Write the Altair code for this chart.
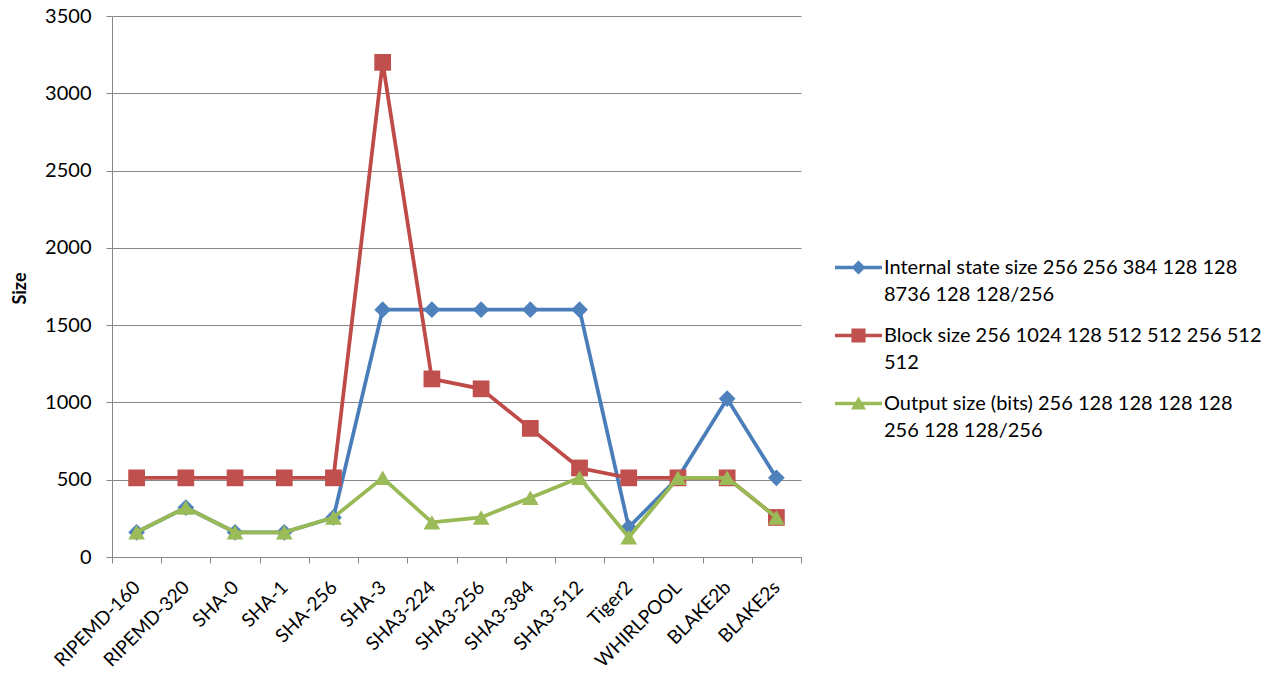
import altair as alt
import pandas as pd

# Hash functions along the category axis
names = ["RIPEMD-160", "RIPEMD-320", "SHA-0", "SHA-1", "SHA-256", "SHA-3",
         "SHA3-224", "SHA3-256", "SHA3-384", "SHA3-512", "Tiger2",
         "WHIRLPOOL", "BLAKE2b", "BLAKE2s"]

# Series values (bits)
internal_state = [160, 320, 160, 160, 256, 1600, 1600, 1600, 1600, 1600, 192, 512, 1024, 512]
block_size = [512, 512, 512, 512, 512, 3200, 1152, 1088, 832, 576, 512, 512, 512, 256]
output_size = [160, 320, 160, 160, 256, 512, 224, 256, 384, 512, 128, 512, 512, 256]

# Series names; "|" marks where the legend label wraps
series_labels = [
    "Internal state  size 256 256 384 128 128|8736 128 128/256",
    "Block size 256 1024 128 512 512 256 512|512",
    "Output size (bits) 256 128 128 128 128|256 128 128/256",
]
y_ticks = [0, 500, 1000, 1500, 2000, 2500, 3000, 3500]

line_colors = ["#4A7EBB", "#BE4B48", "#98B954"]
marker_colors = ["#4F81BD", "#C0504D", "#9BBB59"]
markers = ["diamond", "square", "triangle-up"]

# Legend glyphs: a short line segment with the series marker in the middle
seg = "M-1,-0.075H1V0.075H-1Z"
legend_glyphs = [
    seg + "M0,-0.3L0.3,0L0,0.3L-0.3,0Z",
    seg + "M-0.3,-0.3H0.3V0.3H-0.3Z",
    seg + "M0,-0.3L0.32,0.26H-0.32Z",
]

rows = []
for label, vals in zip(series_labels, [internal_state, block_size, output_size]):
    for n, v in zip(names, vals):
        rows.append({"name": n, "series": label, "value": v})
df = pd.DataFrame(rows)

FONT = "Lato"
GRID = "#868686"

x_enc = alt.X(
    "name:N", sort=names,
    scale=alt.Scale(type="band", paddingInner=0, paddingOuter=0),
    axis=alt.Axis(title=None, labelAngle=-45, labelAlign="right", labelBaseline="middle",
                  labelFont=FONT, labelFontSize=19, labelColor="#000", labelPadding=21,
                  tickBand="extent", tickSize=6, tickColor=GRID, domainColor=GRID,
                  grid=False, labelOverlap=False),
)
y_enc = alt.Y(
    "value:Q",
    scale=alt.Scale(domain=[0, 3500], nice=False),
    axis=alt.Axis(values=y_ticks, format="d", title="Size", titleFont=FONT, titleFontSize=18,
                  titleFontWeight="bold", titleColor="#000", titleX=-92, titleY=272,
                  titleAlign="center", titleBaseline="middle",
                  labelFont=FONT, labelFontSize=20, labelColor="#000", labelPadding=15,
                  tickSize=6, tickColor=GRID, domainColor=GRID, gridColor=GRID,
                  gridWidth=1),
)

base = alt.Chart(df)
layers = []
for label, lc, mc, shp in zip(series_labels, line_colors, marker_colors, markers):
    s = base.transform_filter(alt.datum.series == label)
    layers.append(s.mark_line(color=lc, strokeWidth=3.75).encode(x=x_enc, y=y_enc))
    layers.append(s.mark_point(shape=shp, filled=True, color=mc, opacity=1, size=280)
                  .encode(x=x_enc, y=y_enc))

legend_layer = base.transform_filter("datum.value < 0").mark_point(filled=True, opacity=1).encode(
    color=alt.Color("series:N", scale=alt.Scale(domain=series_labels, range=marker_colors),
                    legend=alt.Legend(title=None, orient="none", legendX=723, legendY=228,
                                      padding=0, symbolSize=2209, symbolStrokeWidth=0,
                                      symbolOpacity=1, labelExpr="split(datum.label, '|')",
                                      labelFont=FONT, labelFontSize=20, labelColor="#000",
                                      labelOffset=2, labelLimit=700, rowPadding=7)),
    shape=alt.Shape("series:N", scale=alt.Scale(domain=series_labels, range=legend_glyphs)),
)
layers.append(legend_layer)

chart = alt.layer(*layers).properties(
    width=689, height=541,
    autosize=alt.AutoSizeParams(type="none"),
    padding={"left": 112, "top": 16, "right": 465, "bottom": 119},
    background="white",
).configure(style={"guide-label": {"lineHeight": 27}}).configure_view(strokeWidth=0)

chart.save("out.html", embed_options={"renderer": "svg", "actions": False})
